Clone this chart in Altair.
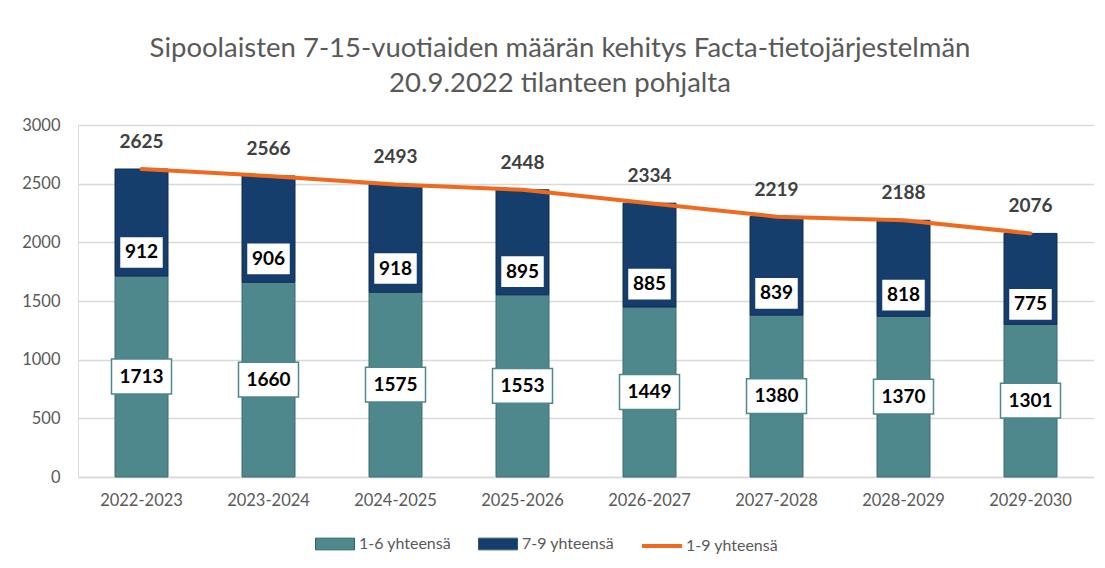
import altair as alt
import pandas as pd

# ---- data ----
years = ["2022-2023", "2023-2024", "2024-2025", "2025-2026",
         "2026-2027", "2027-2028", "2028-2029", "2029-2030"]
grade_1_6 = [1713, 1660, 1575, 1553, 1449, 1380, 1370, 1301]
grade_7_9 = [912, 906, 918, 895, 885, 839, 818, 775]
total_1_9 = [2625, 2566, 2493, 2448, 2334, 2219, 2188, 2076]
series_names = ["1-6 yhteensä", "7-9 yhteensä", "1-9 yhteensä"]
title_lines = ["Sipoolaisten 7-15-vuotiaiden määrän kehitys Facta-tietojärjestelmän",
               "20.9.2022 tilanteen pohjalta"]

rows = []
for i, yr in enumerate(years):
    rows.append({"year": yr, "series": series_names[0], "start": 0,
                 "end": grade_1_6[i], "value": grade_1_6[i]})
    rows.append({"year": yr, "series": series_names[1], "start": grade_1_6[i],
                 "end": grade_1_6[i] + grade_7_9[i], "value": grade_7_9[i]})
bars_df = pd.DataFrame(rows)
tot_df = pd.DataFrame({"year": years, "total": total_1_9,
                       "series": [series_names[2]] * len(years)})

TEAL = "#4E878C"
NAVY = "#153E6C"
ORANGE = "#EE6A1F"
GREY = "#595959"
FONT = "Lato"

x_enc = alt.X("year:N", sort=years, title=None,
              scale=alt.Scale(paddingInner=0, paddingOuter=0),
              axis=alt.Axis(labelAngle=0, ticks=False, domainColor="#D9D9D9",
                            domainWidth=1.3,
                            labelFontSize=16.5, labelColor=GREY, labelPadding=15,
                            labelFont=FONT))
y_scale = alt.Scale(domain=[0, 3000], nice=False)
y_axis = alt.Axis(values=[0, 500, 1000, 1500, 2000, 2500, 3000], ticks=False,
                  format="d", domain=False, gridColor="#D9D9D9", gridWidth=1.3,
                  labelFontSize=16.5, labelColor=GREY, labelPadding=18, labelFont=FONT)

fill_scale = alt.Scale(domain=series_names[:2], range=[TEAL, NAVY])
fill_legend = alt.Legend(title=None, orient="none", direction="horizontal",
                         legendX=237, legendY=399,
                         symbolType="M-1,-0.3L1,-0.3L1,0.3L-1,0.3Z", symbolSize=1521,
                         symbolStrokeWidth=1, symbolStrokeColor="#2F5F66",
                         labelFontSize=16, labelColor=GREY, labelFont=FONT,
                         labelOffset=4, columnPadding=24)
stroke_legend = alt.Legend(title=None, orient="none", direction="horizontal",
                           legendX=562, legendY=399, symbolType="stroke",
                           symbolSize=1600, symbolStrokeWidth=4,
                           labelFontSize=16, labelColor=GREY, labelFont=FONT,
                           labelOffset=2)

base = alt.Chart(bars_df)

bars_16 = base.transform_filter(alt.datum.series == series_names[0]).mark_bar(
    size=53, stroke="#3C6C71", strokeWidth=1).encode(
    x=x_enc,
    y=alt.Y("start:Q", scale=y_scale, axis=y_axis, title=None),
    y2="end:Q",
    fill=alt.Fill("series:N", scale=fill_scale, legend=fill_legend))

bars_79 = base.transform_filter(alt.datum.series == series_names[1]).mark_bar(
    size=53, stroke="#0E2D52", strokeWidth=1).encode(
    x=x_enc, y=alt.Y("start:Q"), y2="end:Q",
    fill=alt.Fill("series:N", scale=fill_scale, legend=fill_legend))

lab16 = base.transform_filter(alt.datum.series == series_names[0]).transform_calculate(
    pos="datum.start + datum.value / 2")
lab79 = base.transform_filter(alt.datum.series == series_names[1]).transform_calculate(
    pos="datum.start + datum.value * 0.22")

box16 = lab16.mark_point(shape="M-1,-0.58L1,-0.58L1,0.58L-1,0.58Z", size=3600,
                         filled=True, fill="white", stroke=TEAL, strokeWidth=1.5,
                         opacity=1).encode(x=x_enc, y=alt.Y("pos:Q"))
box79 = lab79.mark_point(shape="M-1,-0.73L1,-0.73L1,0.73L-1,0.73Z", size=1936,
                         filled=True, fill="white", stroke=NAVY, strokeWidth=1.5,
                         opacity=1).encode(x=x_enc, y=alt.Y("pos:Q"))
txt16 = lab16.mark_text(font=FONT, fontSize=19, fontWeight="bold", color="black",
                        baseline="middle").encode(x=x_enc, y=alt.Y("pos:Q"),
                                                  text="value:Q")
txt79 = lab79.mark_text(font=FONT, fontSize=19, fontWeight="bold", color="black",
                        baseline="middle").encode(x=x_enc, y=alt.Y("pos:Q"),
                                                  text="value:Q")

line = alt.Chart(tot_df).mark_line(strokeWidth=4, strokeCap="round").encode(
    x=x_enc, y=alt.Y("total:Q"),
    stroke=alt.Stroke("series:N", scale=alt.Scale(domain=[series_names[2]],
                                                  range=[ORANGE]),
                      legend=stroke_legend))

tot_txt = alt.Chart(tot_df).mark_text(font=FONT, fontSize=19, fontWeight="bold",
                                      color="#404040", dy=-27,
                                      baseline="middle").encode(
    x=x_enc, y=alt.Y("total:Q"), text="total:Q")

chart = alt.layer(bars_16, bars_79, line, box16, box79, txt16, txt79, tot_txt).properties(
    width=1016, height=352,
    title=alt.TitleParams(title_lines, fontSize=27.5, font=FONT, fontWeight="normal",
                          color=GREY, anchor="middle", dx=-26, offset=20,
                          lineHeight=35),
    autosize=alt.AutoSizeParams(type="none"),
    padding={"left": 70, "top": 117, "right": 0, "bottom": 83},
).configure_view(stroke="transparent", strokeWidth=0).configure(background="white")

chart.save("out.html", embed_options={"renderer": "svg", "actions": False})
